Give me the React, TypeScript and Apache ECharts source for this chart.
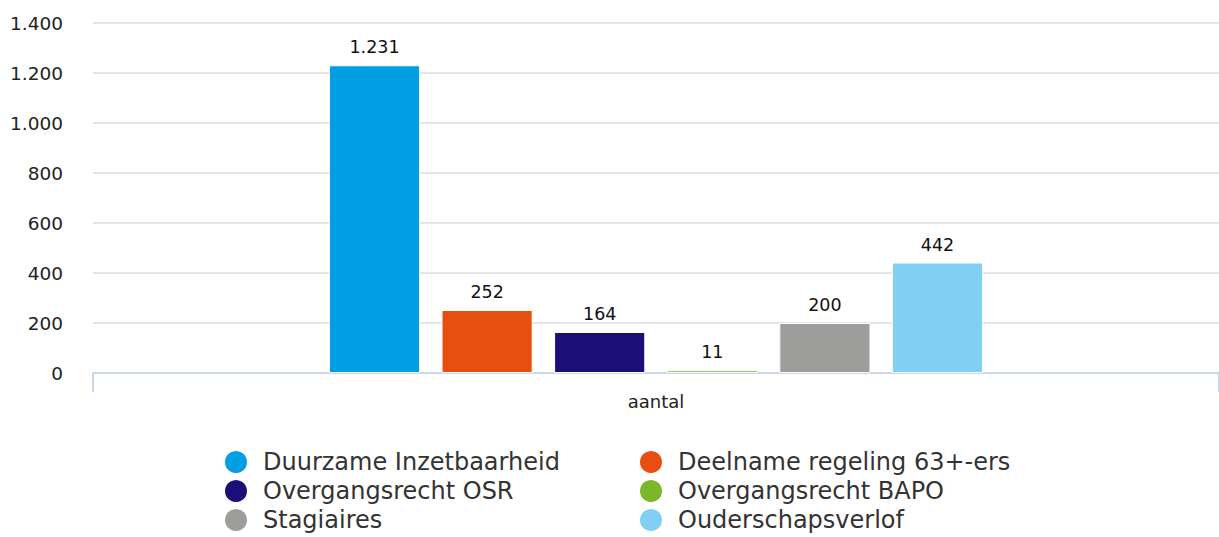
import React, { useEffect, useRef } from "react";
import * as echarts from "echarts";

const categories = ["aantal"];
const seriesNames = [
  "Duurzame Inzetbaarheid",
  "Deelname regeling 63+-ers",
  "Overgangsrecht OSR",
  "Overgangsrecht BAPO",
  "Stagiaires",
  "Ouderschapsverlof",
];
const seriesValues = [1231, 252, 164, 11, 200, 442];
const seriesColors = ["#009FE3", "#E84E0F", "#1B0E78", "#7AB829", "#9D9D9C", "#82CFF4"];
const legendCol1 = ["Duurzame Inzetbaarheid", "Overgangsrecht OSR", "Stagiaires"];
const legendCol2 = ["Deelname regeling 63+-ers", "Overgangsrecht BAPO", "Ouderschapsverlof"];

const FONT = "'DejaVu Sans', Verdana, sans-serif";
const nl = (v: number) => String(v).replace(/\B(?=(\d{3})+(?!\d))/g, ".");

export default function App() {
  const ref = useRef<HTMLDivElement>(null);
  useEffect(() => {
    document.body.style.margin = "0";
    const chart = echarts.init(ref.current!, null, { renderer: "svg" });
    const legendCommon = {
      orient: "vertical",
      top: 444,
      height: 100,
      icon: "circle",
      itemWidth: 44,
      itemHeight: 24,
      itemGap: 3,
      textStyle: { fontFamily: FONT, fontSize: 24, color: "#333333", lineHeight: 24 },
      selectedMode: false,
    };
    chart.setOption({
      animation: false,
      textStyle: { fontFamily: FONT },
      legend: [
        { ...legendCommon, left: 218, data: legendCol1 },
        { ...legendCommon, left: 633, data: legendCol2 },
      ],
      grid: { left: 93, right: 0, top: 23, bottom: 164 },
      xAxis: {
        type: "category",
        data: categories,
        axisLine: { lineStyle: { color: "#CCD6EB", width: 2 } },
        axisTick: { show: true, length: 19, lineStyle: { color: "#CCD6EB", width: 2 } },
        axisLabel: { margin: 19, fontSize: 18, color: "#222222", fontFamily: FONT },
      },
      yAxis: {
        type: "value",
        min: 0,
        max: 1400,
        interval: 200,
        axisLine: { show: false },
        axisTick: { show: false },
        splitLine: { lineStyle: { color: "#E6E6E6", width: 2 } },
        axisLabel: {
          margin: 30,
          fontSize: 18.5,
          color: "#222222",
          fontFamily: FONT,
          formatter: (v: number) => nl(v),
        },
      },
      series: seriesNames.map((name, i) => ({
        name,
        type: "bar",
        data: [seriesValues[i]],
        barCategoryGap: "41.9%",
        barGap: "23.5%",
        itemStyle: { color: seriesColors[i], borderColor: "#FFFFFF", borderWidth: 1 },
        label: {
          show: true,
          position: "top",
          distance: 9,
          fontSize: 17.5,
          color: "#111111",
          fontFamily: FONT,
          formatter: (p: any) => nl(p.value),
        },
      })),
    });
    return () => chart.dispose();
  }, []);
  return <div ref={ref} style={{ width: 1219, height: 537 }} />;
}
